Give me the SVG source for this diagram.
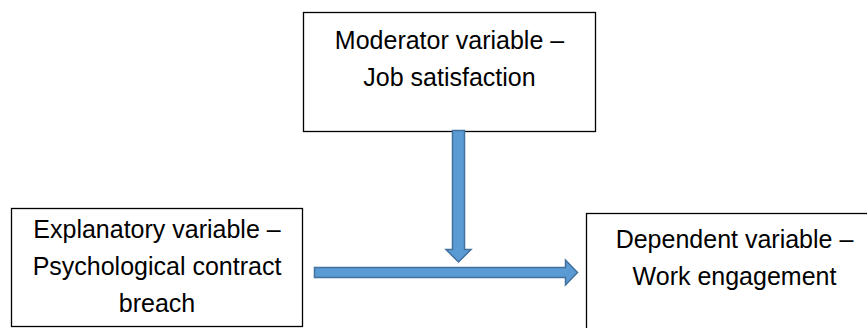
<svg xmlns="http://www.w3.org/2000/svg" width="867" height="328" viewBox="0 0 867 328">
<style>
.box{fill:#fff;stroke:#000;stroke-width:1.3}
.t{font-family:"Liberation Sans",Arial,sans-serif;font-size:25px;fill:#000;text-anchor:middle}
.arr{fill:#5B9BD5;stroke:#41719C;stroke-width:1.5;stroke-linejoin:miter}
</style>
<rect width="867" height="328" fill="#fff"/>
<g id="moderator">
<rect class="box" x="303.5" y="12.5" width="292" height="119"/>
<text class="t" x="449.5" y="49">Moderator variable –</text>
<text class="t" x="449.5" y="86">Job satisfaction</text>
</g>
<g id="explanatory">
<rect class="box" x="11.5" y="208.5" width="291" height="118"/>
<text class="t" x="157" y="238">Explanatory variable –</text>
<text class="t" x="157" y="275">Psychological contract</text>
<text class="t" x="157" y="312">breach</text>
</g>
<g id="dependent">
<rect class="box" x="586.5" y="213.5" width="300" height="130"/>
<text class="t" x="734.5" y="248">Dependent variable –</text>
<text class="t" x="734.5" y="285">Work engagement</text>
</g>
<g id="connectors">
<polygon class="arr" points="452.5,130.5 464.5,130.5 464.5,249.5 471,249.5 458.5,262 446,249.5 452.5,249.5"/>
<polygon class="arr" points="314.5,267.5 565.5,267.5 565.5,260 577.5,272.5 565.5,285 565.5,277.5 314.5,277.5"/>
</g>
</svg>
